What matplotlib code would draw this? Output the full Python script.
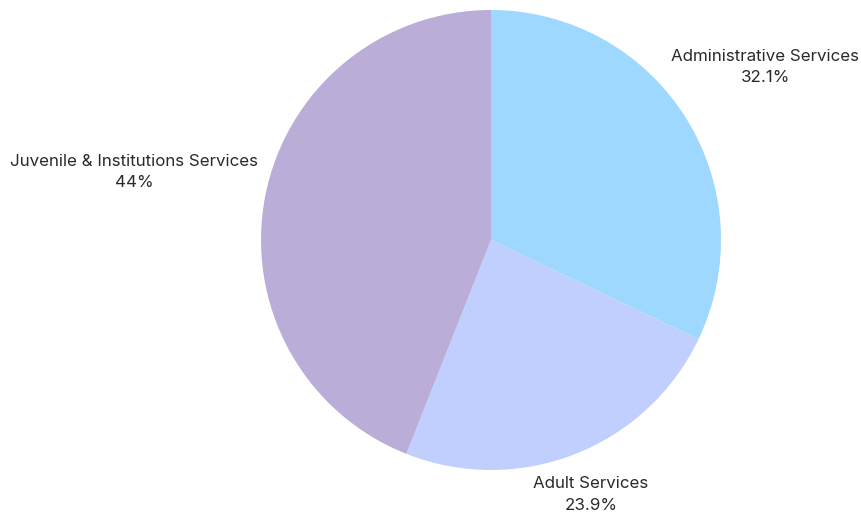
import numpy as np
import matplotlib.pyplot as plt

plt.rcParams['font.family'] = ['Inter', 'DejaVu Sans']

labels = ['Administrative Services', 'Adult Services', 'Juvenile & Institutions Services']
shares = [32.1, 23.9, 44.0]
share_text = ['32.1%', '23.9%', '44%']
colors = ['#9ed8fe', '#c0cffe', '#baaed9']
label_dist = [1.41, 1.19, 1.58]

fig = plt.figure(figsize=(8.61, 5.12), dpi=100)
# square axes so the pie keeps a fixed pixel radius
ax = fig.add_axes([(491 - 230) / 861, (272 - 230) / 512, 460 / 861, 460 / 512])
wedges, _ = ax.pie(shares, colors=colors, startangle=90, counterclock=False,
                   radius=1, wedgeprops=dict(linewidth=0))
ax.set_xlim(-1, 1)
ax.set_ylim(-1, 1)
ax.set_aspect('equal')
ax.axis('off')

for w, lab, pct, d in zip(wedges, labels, share_text, label_dist):
    ang = np.deg2rad((w.theta1 + w.theta2) / 2)
    ax.text(d * np.cos(ang), d * np.sin(ang), lab + '\n' + pct,
            ha='center', va='center', fontsize=12.2, color='#2a2a2a',
            linespacing=1.55, clip_on=False)

fig.savefig('out.png', dpi=100)
